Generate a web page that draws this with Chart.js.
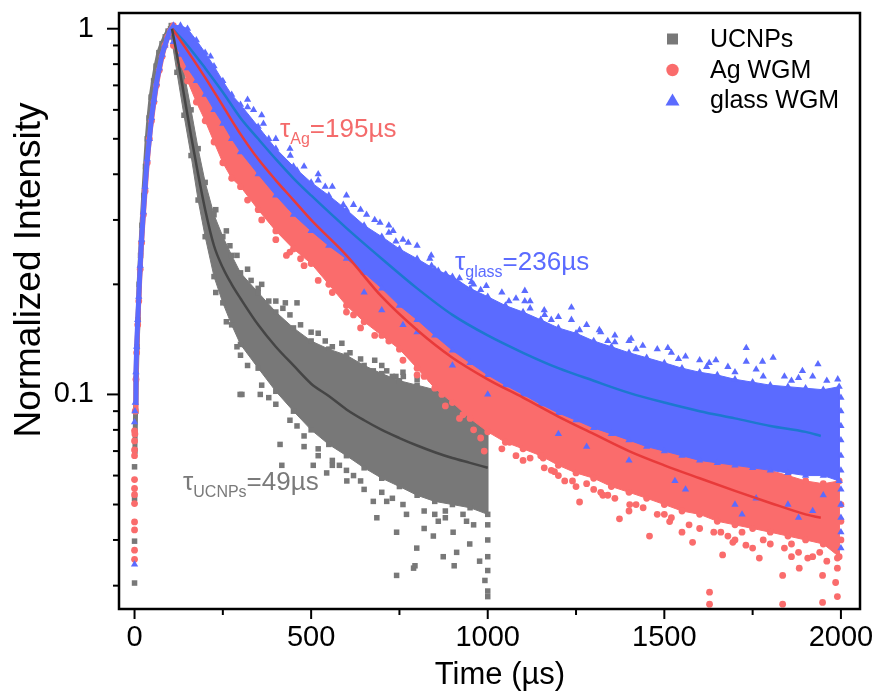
<!DOCTYPE html>
<html>
<head>
<meta charset="utf-8">
<script src="https://cdn.jsdelivr.net/npm/chart.js@4.4.1/dist/chart.umd.min.js"></script>
<style>
  html, body { margin: 0; padding: 0; background: #fff; }
  #wrap { width: 884px; height: 695px; }
</style>
</head>
<body>
<div id="wrap"><canvas id="decay" width="884" height="695"></canvas></div>
<script>
// ticks
var xTicks = [0, 250, 500, 750, 1000, 1250, 1500, 1750, 2000];
var yTicks = [0.03, 0.04, 0.05, 0.06, 0.07, 0.08, 0.09, 0.1, 0.2, 0.3, 0.4, 0.5, 0.6, 0.7, 0.8, 0.9, 1];

// UCNPs (grey squares)
var ucRiseT = [1, 3, 5, 7, 10, 13, 17, 21, 26, 31, 36, 41, 47, 54, 61, 69, 78, 87, 95, 102];
var ucRise = [0.07, 0.09, 0.11, 0.135, 0.16, 0.2, 0.24, 0.29, 0.35, 0.42, 0.5, 0.57, 0.65, 0.72, 0.79, 0.86, 0.91, 0.95, 0.985, 1.0];
var ucT = [104, 120, 140, 160, 180, 200, 225, 250, 275, 300, 350, 400, 450, 500, 550, 600, 650, 700, 750, 800, 850, 900, 950, 1000];
var ucHi = [1.02, 0.97, 0.76, 0.6, 0.47, 0.38, 0.31, 0.27, 0.24, 0.215, 0.19, 0.168, 0.152, 0.14, 0.133, 0.128, 0.12, 0.114, 0.109, 0.106, 0.103, 0.101, 0.1, 0.098];
var ucLo = [0.95, 0.76, 0.58, 0.45, 0.34, 0.27, 0.21, 0.178, 0.155, 0.137, 0.118, 0.102, 0.09, 0.08, 0.073, 0.068, 0.063, 0.059, 0.056, 0.053, 0.051, 0.05, 0.049, 0.047];
var ucSpots = [[0, 0.0305], [0, 0.0397], [0, 0.0634], [0, 0.052], [299, 0.1], [304, 0.1], [356, 0.1], [380, 0.18], [350, 0.195],
  [427, 0.178], [460, 0.178], [412, 0.073], [417, 0.064], [480, 0.072], [506, 0.064], [520, 0.068], [544, 0.061], [560, 0.064],
  [601, 0.058], [620, 0.06], [650, 0.055], [587, 0.138], [624, 0.118], [640, 0.125], [676, 0.116], [700, 0.12], [714, 0.116],
  [740, 0.112], [761, 0.112], [800, 0.11], [850, 0.108], [900, 0.108], [950, 0.106], [980, 0.104], [676, 0.051], [686, 0.046],
  [714, 0.051], [742, 0.042], [742, 0.032], [770, 0.047], [790, 0.0335], [794, 0.034], [799, 0.038], [820, 0.043], [846, 0.041],
  [860, 0.045], [874, 0.036], [880, 0.048], [902, 0.042], [905, 0.034], [912, 0.037], [930, 0.047], [949, 0.039], [960, 0.044],
  [977, 0.035], [992, 0.031], [1000, 0.029], [1000, 0.028], [1000, 0.033], [1000, 0.036], [1000, 0.04], [1000, 0.044],
  [500, 0.148], [540, 0.14], [560, 0.135],
  [230, 0.32], [260, 0.28], [290, 0.24], [320, 0.22], [360, 0.2], [400, 0.18], [440, 0.165], [520, 0.147], [680, 0.124],
  [760, 0.115], [840, 0.11], [920, 0.107], [230, 0.19], [260, 0.158], [290, 0.135], [320, 0.12], [360, 0.106], [400, 0.094],
  [440, 0.085], [480, 0.077], [520, 0.071], [560, 0.066], [600, 0.062], [640, 0.058], [700, 0.054], [760, 0.05], [820, 0.048],
  [880, 0.046], [940, 0.045], [270, 0.255], [330, 0.205], [420, 0.172], [470, 0.155], [610, 0.13], [730, 0.112], [870, 0.104],
  [300, 0.128], [380, 0.098], [460, 0.082], [580, 0.064], [730, 0.052], [850, 0.047]];
var ucFitT = [106, 120, 140, 160, 180, 200, 225, 250, 275, 300, 350, 400, 450, 500, 550, 600, 650, 700, 750, 800, 850, 900, 950, 1000];
var ucFit = [1.0, 0.85, 0.66, 0.51, 0.4, 0.32, 0.255, 0.222, 0.2, 0.183, 0.155, 0.135, 0.12, 0.107, 0.099, 0.091, 0.085, 0.08, 0.076, 0.0725, 0.0695, 0.067, 0.065, 0.063];

// shared time grid for the two WGM bands
var bandT = [110, 130, 150, 175, 200, 225, 250, 275, 300, 350, 400, 450, 500, 550, 600, 650, 700, 750, 800, 850, 900, 950, 1000,
  1050, 1100, 1150, 1200, 1250, 1300, 1350, 1400, 1450, 1500, 1550, 1600, 1650, 1700, 1750, 1800, 1850, 1900, 1950, 1995];

// Ag WGM (red circles)
var agRiseT = [2, 4, 6, 9, 12, 16, 20, 25, 30, 36, 42, 48, 55, 62, 70, 78, 86, 94, 101, 107];
var agRise = [0.09, 0.11, 0.13, 0.155, 0.18, 0.22, 0.26, 0.31, 0.36, 0.43, 0.5, 0.56, 0.63, 0.7, 0.77, 0.84, 0.9, 0.95, 0.985, 1.0];
var agHi = [1.02, 0.97, 0.92, 0.86, 0.79, 0.72, 0.65, 0.6, 0.56, 0.48, 0.42, 0.37, 0.33, 0.3, 0.27, 0.24, 0.22, 0.2, 0.18, 0.165,
  0.15, 0.14, 0.13, 0.122, 0.115, 0.108, 0.1, 0.095, 0.09, 0.086, 0.082, 0.079, 0.076, 0.073, 0.07, 0.068, 0.066, 0.064, 0.062,
  0.06, 0.058, 0.057, 0.058];
var agLo = [0.9, 0.8, 0.72, 0.63, 0.56, 0.49, 0.43, 0.39, 0.37, 0.32, 0.28, 0.25, 0.228, 0.2, 0.175, 0.158, 0.145, 0.133, 0.118,
  0.104, 0.095, 0.086, 0.079, 0.074, 0.071, 0.068, 0.064, 0.061, 0.059, 0.056, 0.054, 0.052, 0.05, 0.048, 0.047, 0.045, 0.044,
  0.043, 0.042, 0.041, 0.04, 0.039, 0.036];
var agSpots = [[0, 0.0795], [0, 0.0746], [0, 0.0705], [0, 0.068], [0, 0.0585], [0, 0.0553], [0, 0.0532], [0, 0.0503], [0, 0.0448],
  [0, 0.0426], [0, 0.0375], [0, 0.0354], [1, 0.078], [1053, 0.079], [1062, 0.074], [1157, 0.067], [1189, 0.0615], [1218, 0.058],
  [1260, 0.0508], [1326, 0.053], [1373, 0.0457], [1402, 0.05], [1458, 0.041], [1515, 0.0449], [1580, 0.0394], [1628, 0.0288],
  [1628, 0.0267], [1665, 0.0364], [1694, 0.0394], [1731, 0.0387], [1769, 0.0357], [1835, 0.032], [1835, 0.0267], [1882, 0.0335],
  [1906, 0.0357], [1948, 0.032], [1948, 0.027], [1985, 0.0306], [1990, 0.028], [1990, 0.0335], [1990, 0.0357], [2000, 0.04],
  [2000, 0.045], [2000, 0.05], [1100, 0.066], [1300, 0.055], [1550, 0.042], [1750, 0.038], [1860, 0.036], [1700, 0.04],
  [1400, 0.048], [1250, 0.056], [430, 0.24], [470, 0.235], [560, 0.19], [620, 0.165], [680, 0.145], [720, 0.14], [820, 0.112],
  [870, 0.1], [930, 0.088], [980, 0.076], [990, 0.07],
  [320, 0.34], [360, 0.3], [400, 0.265], [440, 0.245], [480, 0.225], [520, 0.205], [600, 0.168], [640, 0.152], [760, 0.124],
  [800, 0.113], [880, 0.093], [920, 0.086], [960, 0.08], [1040, 0.071], [1080, 0.068], [1160, 0.063], [1200, 0.06],
  [1240, 0.058], [1320, 0.054], [1360, 0.052], [1440, 0.049], [1480, 0.047], [1520, 0.046], [1600, 0.043], [1640, 0.042],
  [1680, 0.041], [1800, 0.039], [1840, 0.038], [1880, 0.037], [1920, 0.036], [1960, 0.035],
  [1120, 0.067], [1180, 0.062], [1280, 0.057], [1340, 0.053], [1420, 0.05], [1500, 0.047], [1570, 0.044], [1660, 0.042],
  [1720, 0.042], [1780, 0.04], [1860, 0.039], [1940, 0.037]];
var agFitT = [107, 150, 200, 250, 300, 350, 400, 450, 500, 600, 700, 800, 900, 1000, 1100, 1200, 1300, 1400, 1500, 1600, 1700, 1800, 1900, 1943];
var agFit = [1.0, 0.87, 0.735, 0.615, 0.515, 0.44, 0.385, 0.34, 0.3, 0.24, 0.185, 0.15, 0.126, 0.11, 0.098, 0.087, 0.078, 0.07, 0.064, 0.059, 0.0545, 0.0505, 0.047, 0.046];

// glass WGM (blue triangles)
var glRiseT = [2, 4, 6, 9, 12, 16, 20, 25, 30, 36, 42, 48, 55, 62, 70, 78, 86, 94, 101, 107];
var glRise = [0.095, 0.115, 0.135, 0.16, 0.185, 0.225, 0.265, 0.315, 0.37, 0.44, 0.5, 0.57, 0.64, 0.71, 0.78, 0.85, 0.9, 0.95, 0.99, 1.0];
var glHi = [1.02, 1.02, 1.0, 0.93, 0.86, 0.79, 0.72, 0.66, 0.62, 0.54, 0.47, 0.42, 0.38, 0.35, 0.32, 0.29, 0.27, 0.25, 0.235, 0.22,
  0.21, 0.195, 0.185, 0.175, 0.168, 0.16, 0.152, 0.147, 0.14, 0.135, 0.13, 0.126, 0.122, 0.118, 0.115, 0.113, 0.11, 0.108, 0.106,
  0.105, 0.104, 0.103, 0.105];
var glLo = [0.92, 0.85, 0.78, 0.72, 0.66, 0.6, 0.55, 0.5, 0.46, 0.4, 0.35, 0.31, 0.28, 0.255, 0.235, 0.215, 0.195, 0.175, 0.16, 0.145,
  0.132, 0.122, 0.113, 0.106, 0.1, 0.094, 0.089, 0.085, 0.081, 0.078, 0.075, 0.072, 0.07, 0.068, 0.066, 0.065, 0.064, 0.063, 0.062,
  0.061, 0.06, 0.06, 0.058];
var glSpots = [[0, 0.0343], [0, 0.084], [1, 0.09], [215, 0.84], [337, 0.6], [365, 0.55], [441, 0.45], [516, 0.36], [591, 0.33],
  [657, 0.31], [695, 0.295], [732, 0.28], [775, 0.26], [836, 0.235], [841, 0.225], [883, 0.212], [954, 0.203], [996, 0.198],
  [1105, 0.192], [1105, 0.18], [1161, 0.165], [1237, 0.173], [1237, 0.16], [1316, 0.15], [1406, 0.142], [1439, 0.136],
  [1510, 0.134], [1627, 0.122], [1646, 0.124], [1732, 0.134], [1732, 0.123], [1778, 0.123], [1808, 0.126], [1891, 0.116],
  [1935, 0.121], [1991, 0.11], [2000, 0.098], [2000, 0.09], [2000, 0.082], [2000, 0.075], [2000, 0.068], [2000, 0.062],
  [2000, 0.055], [2000, 0.05], [2000, 0.046], [2000, 0.042], [2000, 0.038], [700, 0.17], [760, 0.155], [800, 0.148],
  [1200, 0.078], [1280, 0.072], [1400, 0.066], [1530, 0.058], [1560, 0.055], [1700, 0.05], [1720, 0.047], [1760, 0.052],
  [1850, 0.05], [1880, 0.046], [1920, 0.048], [1950, 0.053], [650, 0.19], [900, 0.12], [1000, 0.1],
  [320, 0.64], [320, 0.61], [360, 0.58], [400, 0.5], [440, 0.47], [480, 0.42], [520, 0.4], [520, 0.385], [560, 0.37],
  [600, 0.35], [640, 0.32], [680, 0.3], [720, 0.29], [720, 0.277], [760, 0.265], [800, 0.255], [840, 0.24], [880, 0.213],
  [920, 0.208], [920, 0.2], [960, 0.2], [1040, 0.19], [1080, 0.183], [1120, 0.18], [1120, 0.172], [1160, 0.17],
  [1200, 0.163], [1280, 0.155], [1320, 0.148], [1360, 0.145], [1360, 0.139], [1400, 0.14], [1480, 0.133], [1520, 0.13],
  [1560, 0.127], [1600, 0.124], [1680, 0.119], [1760, 0.117], [1840, 0.112], [1880, 0.111], [1920, 0.112], [1960, 0.109],
  [380, 0.5], [460, 0.41], [540, 0.37], [620, 0.33], [740, 0.262], [860, 0.218], [980, 0.193], [1060, 0.18], [1180, 0.16],
  [1260, 0.15], [1340, 0.14], [1420, 0.133], [1540, 0.125], [1620, 0.119], [1700, 0.115], [1780, 0.112], [1860, 0.109]];
var glFitT = [107, 150, 200, 250, 300, 350, 400, 450, 500, 600, 700, 800, 900, 1000, 1100, 1200, 1300, 1400, 1500, 1600, 1700, 1800, 1900, 1943];
var glFit = [1.0, 0.9, 0.78, 0.67, 0.57, 0.5, 0.44, 0.39, 0.35, 0.285, 0.235, 0.195, 0.165, 0.145, 0.13, 0.118, 0.109, 0.101, 0.095, 0.09, 0.086, 0.082, 0.079, 0.077];

var GREY = '#787878', RED = '#fa6c6c', BLUE = '#5b6bff';
var FONT = '"Liberation Sans", Arial, sans-serif';

function pts(ts, vs) {
  return ts.map(function (t, i) { return { x: t, y: vs[i] }; });
}
function band(ts, hi, lo) {
  return pts(ts, hi).concat(pts(ts, lo).reverse());
}
function pairs(list) {
  return list.map(function (p) { return { x: p[0], y: p[1] }; });
}

// one set of datasets per sample: band, rising edge, loose points
function sampleSets(color, style, rad, rt, rv, t, hi, lo, spots, order) {
  return [
    { data: band(t, hi, lo), fill: 'shape', backgroundColor: color, borderColor: color, borderWidth: 1,
      pointStyle: style, pointRadius: rad, pointBackgroundColor: color, pointBorderWidth: 0, order: order },
    { data: pts(rt, rv), borderColor: color, borderWidth: 5, fill: false,
      pointStyle: style, pointRadius: rad, pointBackgroundColor: color, pointBorderWidth: 0, order: order },
    { data: pairs(spots), showLine: false, pointStyle: style, pointRadius: rad,
      pointBackgroundColor: color, pointBorderWidth: 0, order: order }
  ];
}

var datasets = [
  { data: pts(ucFitT, ucFit), borderColor: '#454545', borderWidth: 2.5, pointRadius: 0, fill: false, cubicInterpolationMode: 'monotone', order: 0 },
  { data: pts(agFitT, agFit), borderColor: '#e83a3a', borderWidth: 2.5, pointRadius: 0, fill: false, cubicInterpolationMode: 'monotone', order: 0 },
  { data: pts(glFitT, glFit), borderColor: '#1c78cf', borderWidth: 2.5, pointRadius: 0, fill: false, cubicInterpolationMode: 'monotone', order: 0 }
].concat(
  sampleSets(BLUE, 'triangle', 4.2, glRiseT, glRise, bandT, glHi, glLo, glSpots, 1),
  sampleSets(RED, 'circle', 3.4, agRiseT, agRise, bandT, agHi, agLo, agSpots, 2),
  sampleSets(GREY, 'rect', 3.9, ucRiseT, ucRise, ucT, ucHi, ucLo, ucSpots, 3)
);

function drawTau(ctx, x, y, sub, rest, color) {
  ctx.fillStyle = color;
  ctx.textAlign = 'left';
  ctx.textBaseline = 'alphabetic';
  ctx.font = '26px ' + FONT;
  ctx.fillText('τ', x, y);
  var w = ctx.measureText('τ').width;
  ctx.font = '16px ' + FONT;
  ctx.fillText(sub, x + w, y + 7);
  var w2 = ctx.measureText(sub).width;
  ctx.font = '26px ' + FONT;
  ctx.fillText(rest, x + w + w2, y);
}

var decor = {
  id: 'decor',
  afterDraw: function (chart) {
    var ctx = chart.ctx, a = chart.chartArea;
    var xs = chart.scales.x, ys = chart.scales.y;
    ctx.save();
    ctx.strokeStyle = '#000';
    ctx.lineWidth = 2.5;
    ctx.strokeRect(a.left, a.top, a.right - a.left, a.bottom - a.top);
    ctx.lineWidth = 2;
    xTicks.forEach(function (v) {
      var px = xs.getPixelForValue(v);
      var len = v % 500 === 0 ? 10 : 6;
      ctx.beginPath(); ctx.moveTo(px, a.bottom); ctx.lineTo(px, a.bottom + len); ctx.stroke();
    });
    yTicks.forEach(function (v) {
      var py = ys.getPixelForValue(v);
      var len = (v === 1 || v === 0.1) ? 12 : 6;
      ctx.beginPath(); ctx.moveTo(a.left, py); ctx.lineTo(a.left - len, py); ctx.stroke();
    });

    // axis titles
    ctx.fillStyle = '#000';
    ctx.textAlign = 'center';
    ctx.textBaseline = 'alphabetic';
    ctx.font = '31px ' + FONT;
    ctx.fillText('Time (µs)', 500, 684);
    ctx.save();
    ctx.translate(40, 270);
    ctx.rotate(-Math.PI / 2);
    ctx.font = '37px ' + FONT;
    ctx.fillText('Normalized Intensity', 0, 0);
    ctx.restore();

    // legend
    var items = [['UCNPs', GREY, 'rect', 39], ['Ag WGM', RED, 'circle', 70], ['glass WGM', BLUE, 'triangle', 100]];
    items.forEach(function (it) {
      var mx = 672.5, my = it[3];
      ctx.fillStyle = it[1];
      ctx.beginPath();
      if (it[2] === 'rect') ctx.rect(mx - 5.5, my - 5.5, 11, 11);
      else if (it[2] === 'circle') ctx.arc(mx, my, 6.2, 0, Math.PI * 2);
      else { ctx.moveTo(mx, my - 6.5); ctx.lineTo(mx + 7, my + 5.5); ctx.lineTo(mx - 7, my + 5.5); ctx.closePath(); }
      ctx.fill();
      ctx.fillStyle = '#000';
      ctx.font = '25px ' + FONT;
      ctx.textAlign = 'left';
      ctx.textBaseline = 'middle';
      ctx.fillText(it[0], 710, my + 1);
    });

    // lifetimes
    drawTau(ctx, 280, 137, 'Ag', '=195µs', '#f46b6b');
    drawTau(ctx, 455, 270, 'glass', '=236µs', '#5b6bff');
    drawTau(ctx, 183, 490, 'UCNPs', '=49µs', '#7a7a7a');
    ctx.restore();
  }
};

new Chart(document.getElementById('decay'), {
  type: 'line',
  data: { datasets: datasets },
  plugins: [decor],
  options: {
    responsive: false,
    animation: false,
    devicePixelRatio: 1,
    layout: { padding: { top: 13, right: 24, left: 0, bottom: 0 } },
    plugins: { legend: { display: false }, tooltip: { enabled: false } },
    scales: {
      x: {
        type: 'linear', min: -44, max: 2054,
        afterFit: function (s) { s.height = 86; s.paddingLeft = 0; s.paddingRight = 0; },
        afterBuildTicks: function (s) { s.ticks = xTicks.map(function (v) { return { value: v }; }); },
        grid: { display: false, drawTicks: false },
        border: { display: false },
        ticks: {
          color: '#000', padding: 12, maxRotation: 0, autoSkip: false,
          font: { family: FONT, size: 29 },
          callback: function (v) { return v % 500 === 0 ? String(v) : ''; }
        }
      },
      y: {
        type: 'logarithmic', min: 0.0259, max: 1.104,
        afterFit: function (s) { s.width = 119; s.paddingTop = 0; s.paddingBottom = 0; },
        afterBuildTicks: function (s) { s.ticks = yTicks.map(function (v) { return { value: v }; }); },
        grid: { display: false, drawTicks: false },
        border: { display: false },
        ticks: {
          color: '#000', padding: 25, autoSkip: false,
          font: { family: FONT, size: 29 },
          callback: function (v) { return v === 1 ? '1' : (v === 0.1 ? '0.1' : ''); }
        }
      }
    }
  }
});
</script>
</body>
</html>
